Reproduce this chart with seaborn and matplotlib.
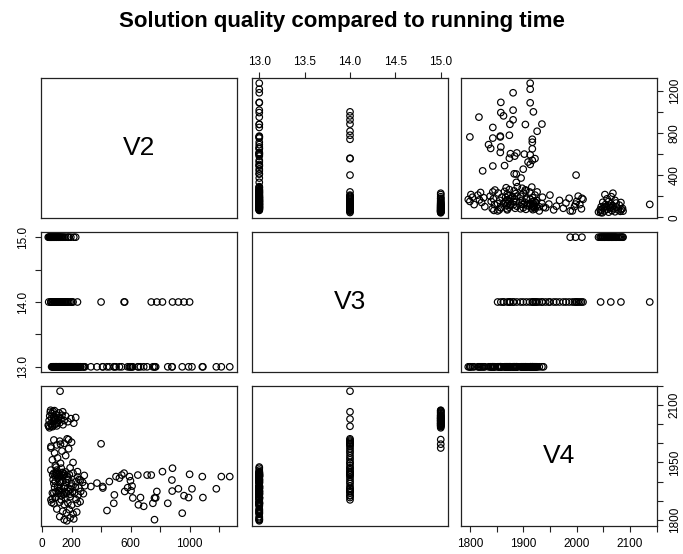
import pandas as pd
import seaborn as sns
import matplotlib.pyplot as plt

# ---- data (V2 = running time, V3 = level, V4 = quality)
v3_levels = [13, 14, 15]

# V3 == 13 : low running times
v2_13 = [72, 80, 88, 95, 100, 108, 115, 122, 130, 138, 145, 152, 160, 170, 185, 210, 240, 100, 130, 95,
         75, 90, 110, 125, 140, 160, 180, 200, 230, 260, 275,
         85, 105, 120, 150, 175, 195, 225, 250, 290,
         80, 95, 110, 120, 132, 145, 155, 165, 178, 190, 205, 220, 245, 262, 280,
         70, 90, 130, 160, 190, 230,
         65, 80, 120, 150, 175, 200, 240, 258,
         100, 140, 165, 185, 210, 235,
         120, 150, 168, 190, 215,
         # V3 == 13 : long running times
         286, 250, 331, 372, 410, 412, 440, 456, 490, 486, 501, 524, 540, 580, 592, 599, 603, 610,
         615, 649, 653, 667, 689, 712, 751, 762, 762, 770, 852, 880, 882, 950, 993, 1016, 1086,
         1090, 1181, 1215, 1272]
v4_13 = [1918, 1922, 1915, 1920, 1924, 1917, 1921, 1914, 1919, 1923, 1916, 1920, 1925, 1913, 1918, 1922, 1926, 1930, 1935, 1938,
         1905, 1900, 1908, 1897, 1903, 1898, 1906, 1895, 1900, 1904, 1898,
         1885, 1888, 1882, 1887, 1884, 1880, 1886, 1883, 1889,
         1870, 1874, 1868, 1876, 1871, 1866, 1873, 1869, 1875, 1867, 1872, 1870, 1865, 1874, 1868,
         1855, 1858, 1852, 1856, 1860, 1853,
         1845, 1842, 1846, 1840, 1844, 1838, 1843, 1847,
         1828, 1822, 1818, 1826, 1815, 1820,
         1808, 1800, 1797, 1805, 1802,
         1916, 1905, 1887, 1896, 1887, 1883, 1824, 1900, 1865, 1843, 1913, 1909, 1917, 1884, 1913, 1902, 1876, 1888,
         1857, 1917, 1839, 1858, 1835, 1917, 1843, 1857, 1800, 1857, 1843, 1904, 1875, 1817, 1858, 1881, 1913,
         1858, 1881, 1913, 1913]

# V3 == 14
v2_14 = [60, 90, 130, 70, 110, 150, 200, 80, 120, 170, 240, 100, 140, 60, 190, 90, 125, 210, 70, 105,
         160, 85, 135, 180, 60, 100, 150, 200, 120, 80, 170, 45, 95, 140, 122,
         400, 556, 560, 740, 778, 816, 884, 924, 962, 1000]
v4_14 = [1852, 1858, 1863, 1870, 1876, 1882, 1888, 1895, 1900, 1906, 1912, 1918, 1924, 1930, 1936, 1942, 1948, 1950, 1957, 1962,
         1968, 1975, 1980, 1986, 1992, 1996, 2000, 2003, 2006, 2009, 2012, 2045, 2064, 2083, 2137,
         1999, 1922, 1874, 1917, 1874, 1926, 1935, 1881, 1863, 1919]

# V3 == 15
v2_15 = [42, 48, 52, 56, 60, 64, 68, 72, 76, 80, 84, 88, 92, 96, 100, 105, 110, 115, 120, 128,
         135, 142, 150, 160, 175, 195, 215, 228, 50, 58, 66, 74, 86, 98, 112, 60, 125, 180]
v4_15 = [2048, 2060, 2072, 2082, 2052, 2066, 2078, 2044, 2058, 2070, 2086, 2050, 2062, 2075, 2046, 2056, 2068, 2080, 2054, 2064,
         2074, 2049, 2060, 2072, 2057, 2065, 2053, 2068, 2041, 2087, 2046, 2084, 2066, 2052, 2061, 1988, 1998, 2010]

title = "Solution quality compared to running time"
var_names = ["V2", "V3", "V4"]

# tick positions / labels as R drew them
v2_ticks = [0, 200, 400, 600, 800, 1000, 1200]
v2_bottom_labels = ["0", "200", "", "600", "", "1000", ""]
v2_right_labels = ["0", "", "400", "", "800", "", "1200"]
v3_ticks = [13.0, 13.5, 14.0, 14.5, 15.0]
v3_top_labels = ["13.0", "13.5", "14.0", "14.5", "15.0"]
v3_left_labels = ["13.0", "", "14.0", "", "15.0"]
v4_ticks = [1800, 1850, 1900, 1950, 2000, 2050, 2100, 2150]
v4_bottom_labels = ["1800", "", "1900", "", "2000", "", "2100", ""]
v4_right_labels = ["1800", "", "", "1950", "", "", "2100", ""]

df = pd.DataFrame({
    "V2": v2_13 + v2_14 + v2_15,
    "V3": [v3_levels[0]] * len(v2_13) + [v3_levels[1]] * len(v2_14) + [v3_levels[2]] * len(v2_15),
    "V4": v4_13 + v4_14 + v4_15,
})

sns.set_style("white")
plt.rcParams["font.family"] = ["Liberation Sans", "DejaVu Sans"]
plt.rcParams["text.color"] = "black"

g = sns.PairGrid(df, vars=var_names, despine=False, height=1.8)
g.map_offdiag(sns.scatterplot, marker="o", facecolors="none", edgecolor="black", s=22, linewidth=0.85)

# R style 4% padding of the data range
for i, var in enumerate(var_names):
    lo, hi = df[var].min(), df[var].max()
    pad = 0.04 * (hi - lo)
    g.axes[0, i].set_xlim(lo - pad, hi + pad)
    g.axes[i, 0].set_ylim(lo - pad, hi + pad)

for ax in g.axes.flat:
    ax.set_xlabel("")
    ax.set_ylabel("")
    ax.tick_params(which="both", bottom=False, top=False, left=False, right=False,
                   labelbottom=False, labeltop=False, labelleft=False, labelright=False)
    for sp in ax.spines.values():
        sp.set_linewidth(0.9)
        sp.set_color("#222222")

for i, var in enumerate(var_names):
    ax = g.axes[i, i]
    ax.text(0.5, 0.5, var, transform=ax.transAxes, ha="center", va="center",
            fontsize=19, color="black")

tick_kw = dict(direction="out", length=4.5, width=0.8, labelsize=8.5, color="#222222", labelcolor="black")

# column 1 bottom: V2
ax = g.axes[2, 0]
ax.set_xticks(v2_ticks, v2_bottom_labels)
ax.tick_params(axis="x", bottom=True, labelbottom=True, pad=4, **tick_kw)

# column 2 top: V3
ax = g.axes[0, 1]
ax.set_xticks(v3_ticks, v3_top_labels)
ax.tick_params(axis="x", top=True, labeltop=True, pad=3, **tick_kw)

# column 3 bottom: V4
ax = g.axes[2, 2]
ax.set_xticks(v4_ticks, v4_bottom_labels)
ax.tick_params(axis="x", bottom=True, labelbottom=True, pad=4, **tick_kw)

# row 1 right: V2
ax = g.axes[0, 2]
ax.set_yticks(v2_ticks, v2_right_labels)
ax.tick_params(axis="y", right=True, labelright=True, labelrotation=90, pad=4, **tick_kw)

# row 2 left: V3
ax = g.axes[1, 0]
ax.set_yticks(v3_ticks, v3_left_labels)
ax.tick_params(axis="y", left=True, labelleft=True, labelrotation=90, pad=4, **tick_kw)

# row 3 right: V4
ax = g.axes[2, 2]
ax.set_yticks(v4_ticks, v4_right_labels)
ax.tick_params(axis="y", right=True, labelright=True, labelrotation=90, pad=4, **tick_kw)

for ax in [g.axes[1, 0], g.axes[0, 2], g.axes[2, 2]]:
    for lab in ax.get_yticklabels():
        lab.set_va("center")

fig = g.figure
fig.set_size_inches(6.83, 5.54)
W, H = 683, 554
col_px = [41, 252, 461]
row_px = [78, 232, 386]
for i in range(3):
    for j in range(3):
        g.axes[i, j].set_position([col_px[j] / W, 1 - (row_px[i] + 140) / H, 196 / W, 140 / H])

fig.suptitle(title, x=0.5, y=1 - 21 / H, va="center", fontsize=16, fontweight="bold", color="black")
fig.savefig("out.png", dpi=100)
plt.close(fig)
